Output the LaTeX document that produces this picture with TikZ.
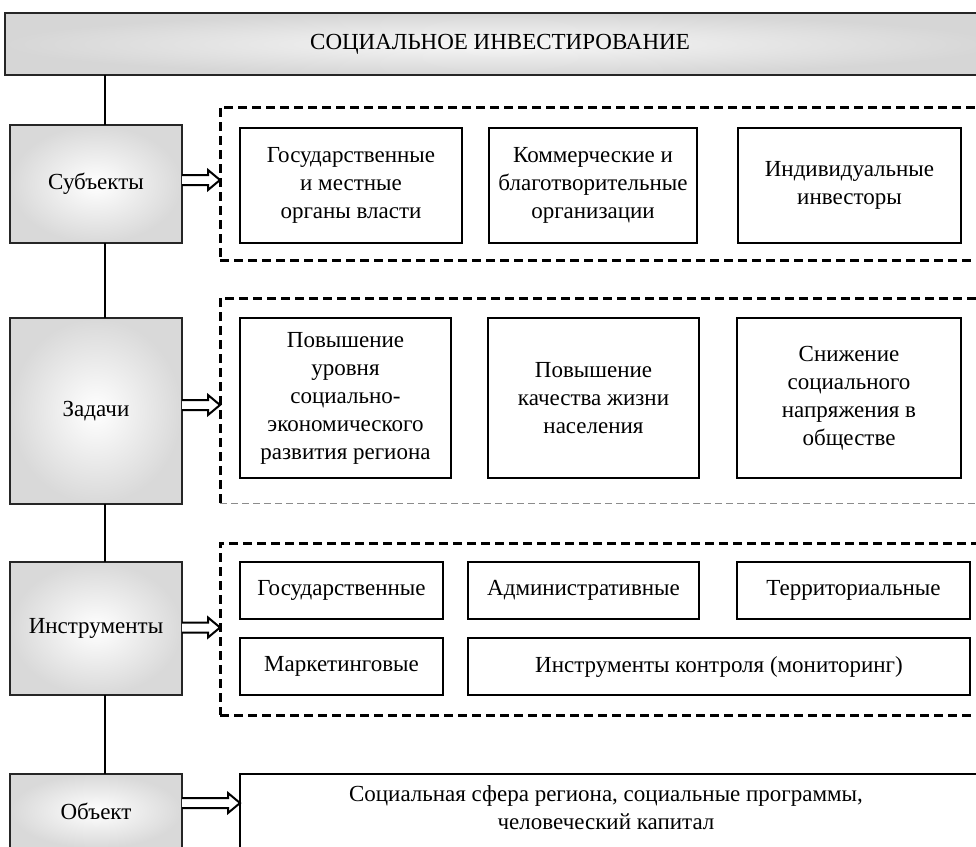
\documentclass[tikz,border=0pt]{standalone}
\usepackage{fontspec}
\setmainfont{Liberation Serif}
\begin{document}
\begin{tikzpicture}[x=1pt,y=-1pt,
  font=\fontsize{23}{28}\selectfont,
  lbl/.style={draw=black!85, line width=2pt, shading=radial, inner color=white,
    outer color=black!15, inner sep=0pt, outer sep=0pt, align=center},
  itm/.style={draw=black, line width=2pt, fill=white, inner sep=0pt, outer sep=0pt, align=center},
  grp/.style={inner sep=0pt, outer sep=0pt},
  bigdash/.style={line width=3pt, dash pattern=on 9pt off 5pt},
  graydash/.style={line width=1pt, draw=black!45, dash pattern=on 7pt off 4pt},
  hollow/.style={line width=2pt, fill=white, line join=miter},
  spine/.style={line width=1.6pt}]
\path[use as bounding box] (0,0) rectangle (976,846);
\clip (0,0) rectangle (976,846);

% header
\node[lbl, inner color=black!3, outer color=black!16, minimum width=990pt, minimum height=62pt] (head) at (500,44) {СОЦИАЛЬНОЕ ИНВЕСТИРОВАНИЕ};

% left column
\node[lbl, minimum width=172pt, minimum height=118pt] (subj) at (96,184) {Субъекты};
\node[lbl, minimum width=172pt, minimum height=186pt] (task) at (96,411) {Задачи};
\node[lbl, minimum width=172pt, minimum height=133pt] (instr) at (96,628.5) {Инструменты};
\node[lbl, minimum width=172pt, minimum height=74pt] (obj) at (96,811) {Объект};

% spine
\coordinate (sp) at (105,0);
\draw[spine] (head.south -| sp) -- (subj.north -| sp);
\draw[spine] (subj.south -| sp) -- (task.north -| sp);
\draw[spine] (task.south -| sp) -- (instr.north -| sp);
\draw[spine] (instr.south -| sp) -- (obj.north -| sp);

% group frames
\node[grp, draw, bigdash, minimum width=770pt, minimum height=153pt] (dash1) at (605,183.5) {};
\node[grp, minimum width=770pt, minimum height=205pt] (dash2) at (605,400.5) {};
\draw[bigdash] (dash2.south west) -- (dash2.north west) -- (dash2.north east);
\draw[graydash] (dash2.south west) -- (dash2.south east);
\node[grp, draw, bigdash, minimum width=770pt, minimum height=172pt] (dash3) at (605,629) {};

% section 1
\node[itm, minimum width=222pt, minimum height=115pt] (s1a) at (351,185.5) {Государственные\\и местные\\органы власти};
\node[itm, minimum width=208pt, minimum height=115pt] (s1b) at (593,185.5) {Коммерческие и\\благотворительные\\организации};
\node[itm, minimum width=223pt, minimum height=115pt] (s1c) at (849.5,185.5) {Индивидуальные\\инвесторы};

% section 2
\node[itm, minimum width=211pt, minimum height=160pt] (s2a) at (345.5,398) {Повышение\\уровня\\социально-\\экономического\\развития региона};
\node[itm, minimum width=211pt, minimum height=160pt] (s2b) at (593.5,398) {Повышение\\качества жизни\\населения};
\node[itm, minimum width=224pt, minimum height=160pt] (s2c) at (849,398) {Снижение\\социального\\напряжения в\\обществе};

% section 3
\node[itm, minimum width=203pt, minimum height=57pt] (s3a) at (341.5,590.5) {Государственные};
\node[itm, minimum width=231pt, minimum height=57pt] (s3b) at (583.5,590.5) {Административные};
\node[itm, minimum width=233pt, minimum height=57pt] (s3c) at (853.5,590.5) {Территориальные};
\node[itm, minimum width=203pt, minimum height=57pt] (s3d) at (341.5,666.5) {Маркетинговые};
\node[itm, minimum width=502pt, minimum height=57pt] (s3e) at (719,666.5) {Инструменты контроля (мониторинг)};

% object box
\node[itm, minimum width=760pt, minimum height=74pt] (big) at (620,811) {};
\node[grp, align=center] (bigtxt) at ([xshift=-14pt,yshift=3pt]big.center) {Социальная сфера региона, социальные программы,\\человеческий капитал};

% hollow arrows
\foreach \src/\dst/\sh in {subj/dash1/4, task/dash2/6, instr/dash3/1, obj/big/8} {
  \coordinate (as) at ([yshift=\sh pt]\src.east);
  \coordinate (ae) at (as -| \dst.west);
  \draw[hollow] (as) ++(0,-5) -- ([xshift=-12pt,yshift=5pt]ae) -- ([xshift=-12pt,yshift=10pt]ae)
     -- (ae) -- ([xshift=-12pt,yshift=-10pt]ae) -- ([xshift=-12pt,yshift=-5pt]ae) -- ([yshift=-5pt]as);
}
\end{tikzpicture}
\end{document}
